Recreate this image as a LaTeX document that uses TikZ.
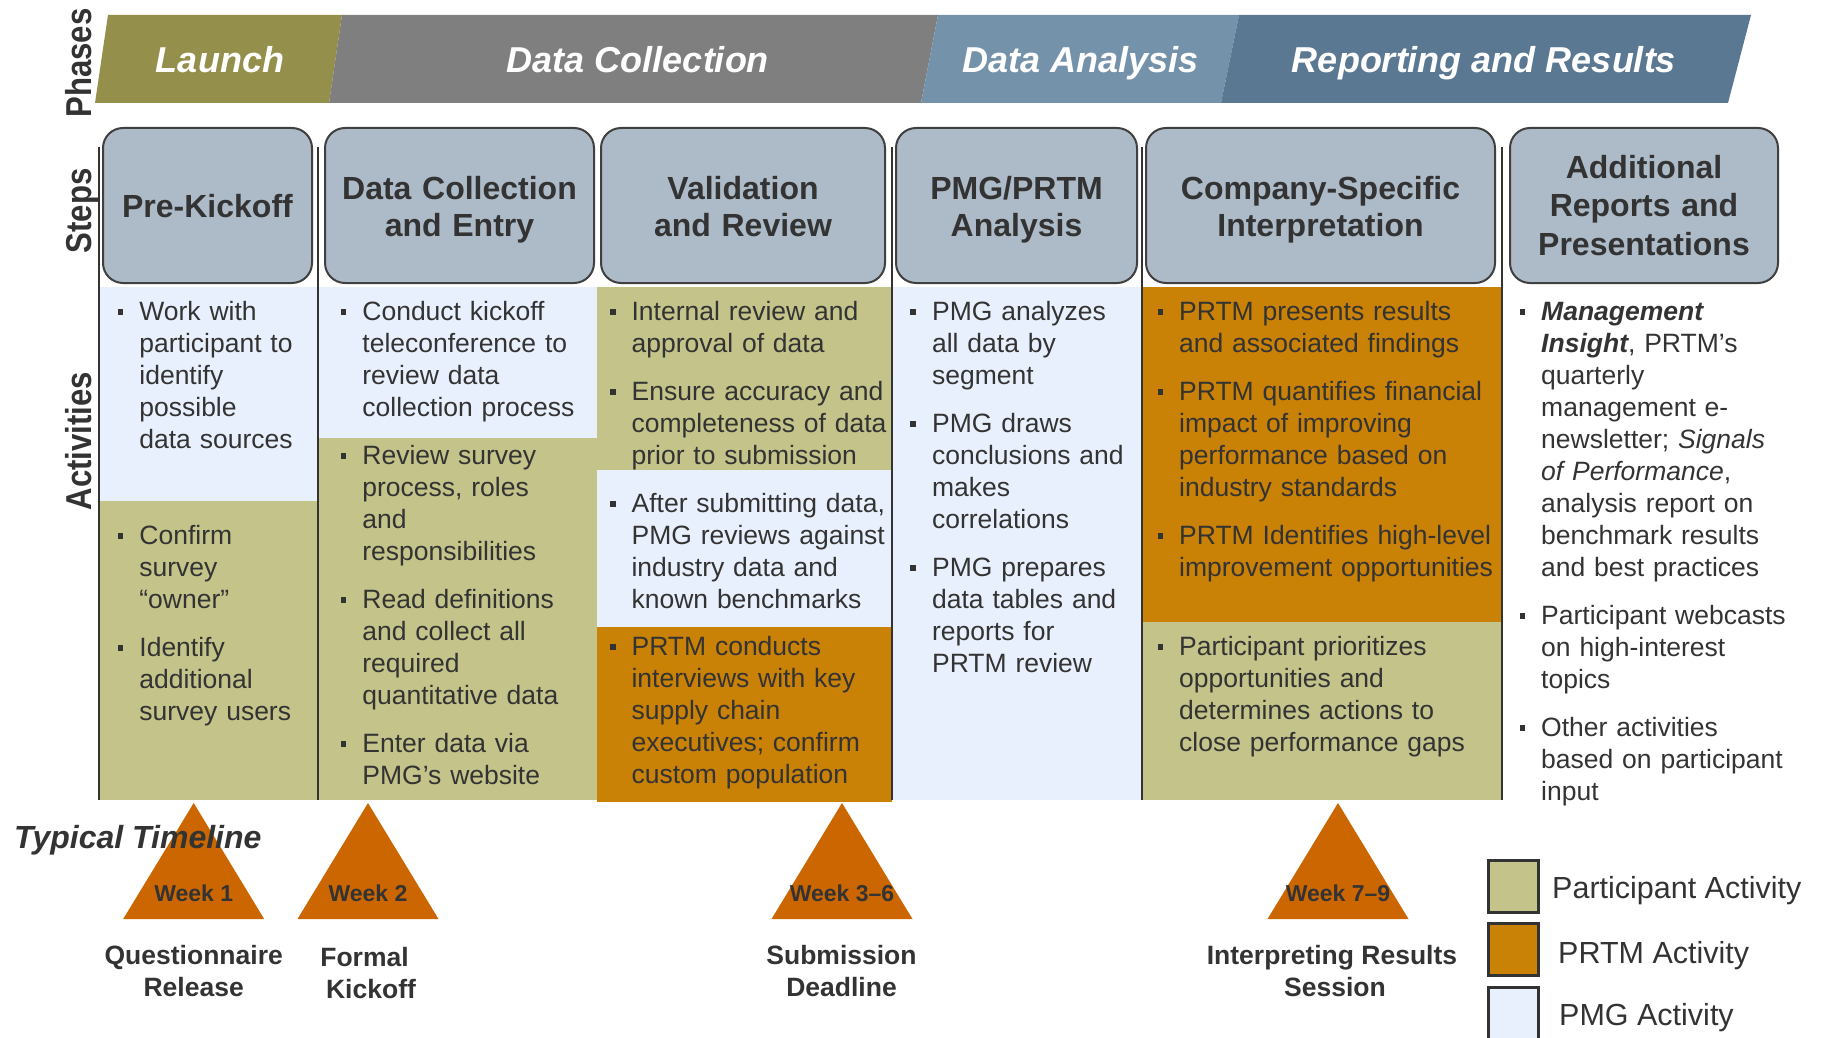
\documentclass[tikz,border=0pt]{standalone}
\usepackage{fontspec}
\setmainfont{Liberation Sans}

\definecolor{txt}{RGB}{51,51,51}
\definecolor{phLaunch}{RGB}{148,143,74}
\definecolor{phCollect}{RGB}{127,127,127}
\definecolor{phAnalysis}{RGB}{117,146,171}
\definecolor{phReport}{RGB}{91,120,147}
\definecolor{stepfill}{RGB}{173,186,200}
\definecolor{stepline}{RGB}{64,64,64}
\definecolor{partic}{RGB}{195,195,138}
\definecolor{prtm}{RGB}{201,129,6}
\definecolor{pmg}{RGB}{233,240,253}
\definecolor{milestone}{RGB}{204,102,0}

\newcommand\act[4]{%
  \node[bulletsq] (#1b) at (#2-18.7,#3-8) {};
  \node[acttext] (#1) at (#2,#3) {#4};}

\begin{document}
\begin{tikzpicture}[x=1pt,y=-1pt,
  phasetext/.style={anchor=base, inner sep=0, text=white, font=\bfseries\itshape\fontsize{36}{40}\selectfont},
  sidelabel/.style={anchor=base, inner sep=0, rotate=90, text=txt, font=\bfseries\fontsize{36}{40}\selectfont},
  stepbox/.style={draw=stepline, line width=2pt, fill=stepfill, rounded corners=20pt, inner sep=0,
    minimum height=155pt},
  steptext/.style={anchor=base, inner sep=0, text width=360pt, align=center, text=txt,
    font=\bfseries\fontsize{32}{38}\selectfont},
  acttext/.style={anchor=base west, inner sep=0, text width=420pt, align=left, text=txt,
    font=\fontsize{26.5}{32}\selectfont},
  bulletsq/.style={fill=txt, inner sep=0, minimum size=5.6pt, shape=rectangle},
  divider/.style={draw=txt, line width=2.5pt},
  weektext/.style={anchor=base, inner sep=0, text=txt, font=\bfseries\fontsize{23}{27}\selectfont},
  eventtext/.style={anchor=base, inner sep=0, text=txt, font=\bfseries\fontsize{26.5}{32}\selectfont},
  legendbox/.style={draw=txt, line width=3pt, inner sep=0, minimum width=50pt, minimum height=52pt},
  legendtext/.style={anchor=base west, inner sep=0, text=txt, font=\fontsize{30.5}{34}\selectfont}
]
\useasboundingbox (0,0) rectangle (1829,1038);

% ---------- phase banner ----------
\fill[phLaunch]   (95,103) -- (108,15) -- (342,15) -- (329,103) -- cycle;
\fill[phCollect]  (329,103) -- (342,15) -- (938,15) -- (921,103) -- cycle;
\fill[phAnalysis] (921,103) -- (938,15) -- (1239,15) -- (1221,103) -- cycle;
\fill[phReport]   (1221,103) -- (1239,15) -- (1751,15) -- (1728,103) -- cycle;
\node[phasetext] (pLaunch) at (220,72.5) {Launch};
\node[phasetext] (pCollect) at (638,72.5) {Data Collection};
\node[phasetext] (pAnalysis) at (1080.5,72.5) {Data Analysis};
\node[phasetext] (pReport) at (1484,72.5) {Reporting and Results};

% ---------- row labels ----------
\node[sidelabel] (lPhases) at (91,63) {\scalebox{0.865}[1]{Phases}};
\node[sidelabel] (lSteps) at (91,211) {\scalebox{0.865}[1]{Steps}};
\node[sidelabel] (lActivities) at (91,441) {\scalebox{0.865}[1]{Activities}};

% ---------- activity backgrounds ----------
% column 1
\fill[pmg]    (100,287) rectangle (318,501);
\fill[partic] (100,501) rectangle (318,800);
% column 2
\fill[pmg]    (318,287) rectangle (597,438);
\fill[partic] (318,438) rectangle (597,800);
% column 3
\fill[partic] (597,287) rectangle (892,470);
\fill[pmg]    (597,470) rectangle (892,627);
\fill[prtm]   (597,627) rectangle (892,802);
% column 4
\fill[pmg]    (892,287) rectangle (1142,800);
% column 5
\fill[prtm]   (1142,287) rectangle (1502,622);
\fill[partic] (1142,622) rectangle (1502,800);

% ---------- column dividers ----------
\foreach \xx in {99,318,892,1142,1502}
  \draw[divider] (\xx,147) -- (\xx,800);

% ---------- step boxes ----------
\node[stepbox, minimum width=209pt] (s1) at (207.5,205.5) {};
\node[stepbox, minimum width=269pt] (s2) at (459.5,205.5) {};
\node[stepbox, minimum width=284pt] (s3) at (743,205.5) {};
\node[stepbox, minimum width=241pt] (s4) at (1016.5,205.5) {};
\node[stepbox, minimum width=349pt] (s5) at (1320.5,205.5) {};
\node[stepbox, minimum width=268pt] (s6) at (1644,205.5) {};
\node[steptext] (s1t) at (s1.center |- 0,217.5) {Pre-Kickoff};
\node[steptext] (s2t) at (s2.center |- 0,199) {Data Collection\\[-0.5pt]and Entry};
\node[steptext] (s3t) at (s3.center |- 0,199) {Validation\\[-0.5pt]and Review};
\node[steptext] (s4t) at (s4.center |- 0,199) {PMG/PRTM\\[-0.5pt]Analysis};
\node[steptext] (s5t) at (s5.center |- 0,199) {Company-Specific\\[-0.5pt]Interpretation};
\node[steptext] (s6t) at (s6.center |- 0,178.5) {Additional\\[0.3pt]Reports and\\[0.3pt]Presentations};

% ---------- activities ----------
\act{a11}{139.2}{320}{Work with\\participant to\\identify\\possible\\data sources}
\act{a12}{139.2}{544}{Confirm\\survey\\“owner”}
\act{a13}{139.2}{656}{Identify\\additional\\survey users}

\act{a21}{362.2}{320}{Conduct kickoff\\teleconference to\\review data\\collection process}
\act{a22}{362.2}{464}{Review survey\\process, roles\\and\\responsibilities}
\act{a23}{362.2}{608}{Read definitions\\and collect all\\required\\quantitative data}
\act{a24}{362.2}{752}{Enter data via\\PMG’s website}

\act{a31}{631.4}{320}{Internal review and\\approval of data}
\act{a32}{631.4}{400}{Ensure accuracy and\\completeness of data\\prior to submission}
\act{a33}{631.4}{512}{After submitting data,\\PMG reviews against\\industry data and\\known benchmarks}
\act{a34}{631.4}{655}{PRTM conducts\\interviews with key\\supply chain\\executives; confirm\\custom population}

\act{a41}{931.9}{320}{PMG analyzes\\all data by\\segment}
\act{a42}{931.9}{432}{PMG draws\\conclusions and\\makes\\correlations}
\act{a43}{931.9}{576}{PMG prepares\\data tables and\\reports for\\PRTM review}

\act{a51}{1179}{320}{PRTM presents results\\and associated findings}
\act{a52}{1179}{400}{PRTM quantifies financial\\impact of improving\\performance based on\\industry standards}
\act{a53}{1179}{544}{PRTM Identifies high-level\\improvement opportunities}
\act{a54}{1179}{655}{Participant prioritizes\\opportunities and\\determines actions to\\close performance gaps}

\act{a61}{1541}{320}{{\bfseries\itshape Management}\\{\bfseries\itshape Insight}, PRTM’s\\quarterly\\management e-\\newsletter; \textit{Signals}\\\textit{of Performance},\\analysis report on\\benchmark results\\and best practices}
\act{a62}{1541}{624}{Participant webcasts\\on high-interest\\topics}
\act{a63}{1541}{736}{Other activities\\based on participant\\input}

% ---------- timeline ----------
\foreach \cx in {193.7,368,842,1338}
  \fill[milestone] (\cx,803) -- (\cx+70.5,919) -- (\cx-70.5,919) -- cycle;
\node[anchor=base west, inner sep=0, text=txt, font=\bfseries\itshape\fontsize{32}{36}\selectfont] (tl) at (14,848) {Typical Timeline};

\node[weektext] (w1) at (193.7,901) {Week 1};
\node[weektext] (w2) at (368,901) {Week 2};
\node[weektext] (w3) at (842,901) {Week 3–6};
\node[weektext] (w4) at (1338,901) {Week 7–9};

\node[eventtext] (e1a) at (193.7,964) {Questionnaire};
\node[eventtext] (e1b) at (193.7,996) {Release};
\node[eventtext] (e2a) at (364.5,966.5) {Formal};
\node[eventtext] (e2b) at (371,998) {Kickoff};
\node[eventtext] (e3a) at (841.5,964) {Submission};
\node[eventtext] (e3b) at (841.5,996) {Deadline};
\node[eventtext] (e4a) at (1332,964) {Interpreting Results};
\node[eventtext] (e4b) at (1335,996) {Session};

% ---------- legend ----------
\node[legendbox, fill=partic] (k1) at (1513,886) {};
\node[legendbox, fill=prtm]   (k2) at (1513,949) {};
\node[legendbox, fill=pmg]    (k3) at (1513,1013) {};
\node[legendtext] (k1t) at (1552,898) {Participant Activity};
\node[legendtext] (k2t) at (1558,963) {PRTM Activity};
\node[legendtext] (k3t) at (1559,1025) {PMG Activity};
\end{tikzpicture}
\end{document}
